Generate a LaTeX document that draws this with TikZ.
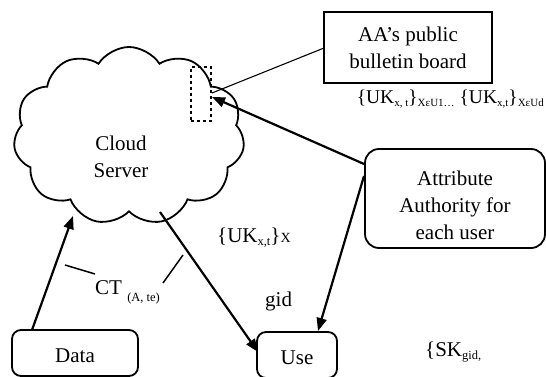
\documentclass[tikz,border=0pt]{standalone}
\usepackage{fontspec}
\setmainfont{Liberation Serif}
\usetikzlibrary{arrows.meta,shapes.symbols}
\newcommand{\sbx}[2][3.5pt]{\raisebox{-#1}{\fontsize{12.5}{14}\selectfont #2}}
\newcommand{\sby}[1]{\raisebox{-3pt}{\fontsize{11}{13}\selectfont #1}}
\tikzset{
  txt/.style={font=\fontsize{21}{27}\selectfont, inner sep=0pt, align=center},
  box/.style={draw, line width=1.8pt, inner sep=0pt},
  rbox/.style={box, rounded corners=9pt},
  arr/.style={line width=2.2pt, -{Triangle[length=13pt,width=10pt]}},
  thin/.style={line width=1.1pt},
  tick/.style={line width=1.5pt}
}
\begin{document}
\begin{tikzpicture}[x=1pt,y=-1pt]
\useasboundingbox (0,0) rectangle (546,377);
% cloud
\node[cloud, draw, line width=1.8pt, cloud puffs=11, cloud puff arc=115, aspect=1.35,
      minimum width=231pt, minimum height=178pt, inner sep=0pt] (cloud) at (129,136) {};
\node[txt] (cloudtxt) at (121,157) {Cloud\\Server};
\node[draw, dashed, line width=1.6pt, minimum width=20pt, minimum height=54pt, inner sep=0pt] (board) at (201,94) {};
% bulletin
\node[box, minimum width=168pt, minimum height=71pt] (bb) at (408,47.5) {};
\node[txt] (bbtxt) at (408,48) {AA’s public\\bulletin board};
% attribute authority
\node[box, rounded corners=14pt, minimum width=180pt, minimum height=99pt] (aa) at (455,198.5) {};
\node[txt] (aatxt) at (455,205) {Attribute\\Authority for\\each user};
% data
\node[rbox, minimum width=126pt, minimum height=46pt] (data) at (75,353) {};
\node[txt] (datatxt) at (75,356) {Data};
% use
\node[rbox, minimum width=80pt, minimum height=46pt] (use) at (297,355) {};
\node[txt] (usetxt) at (297,358) {Use};
% coordinates
\coordinate (cin) at (73,216);
\coordinate (cout) at (160,212);
\coordinate (dout) at (32,330);
\coordinate (uin) at (258,352);
\coordinate (utop) at (318,331);
\coordinate (aaout) at (364,176);
\coordinate (aaout2) at (364,164);
\coordinate (bin) at (212,97);
\coordinate (bl) at (212,93);
\coordinate (bbl) at (324,48);
% connectors
\draw[thin] (bl) -- (bbl);
\draw[arr] (aaout2) -- (bin);
\draw[arr] (dout) -- (cin);
\draw[arr] (cout) -- (uin);
\draw[arr] (aaout) -- (utop);
% tick lines
\coordinate (t1a) at (65,265); \coordinate (t1b) at (95,274);
\coordinate (t2a) at (163,283); \coordinate (t2b) at (183,255);
\draw[tick] (t1a) -- (t1b);
\draw[tick] (t2a) -- (t2b);
% labels
\node[txt, font=\fontsize{19.5}{24}\selectfont, anchor=base east] (ukl) at (544,104) {\{UK\sby{x, t}\}\sby{XεU1…} \{UK\sby{x,t}\}\sby{XεUd}};
\node[txt, anchor=base west] (ukx) at (217,242) {\{UK\sbx{x,t}\}{\fontsize{14}{16}\selectfont X}};
\node[txt, anchor=base west] (ct) at (95,294) {CT \sbx[7pt]{(A, te)}};
\node[txt, anchor=base west] (gid) at (265,306) {gid};
\node[txt, anchor=base west] (sk) at (425,356) {\{SK\sbx{gid,}};
\end{tikzpicture}
\end{document}
